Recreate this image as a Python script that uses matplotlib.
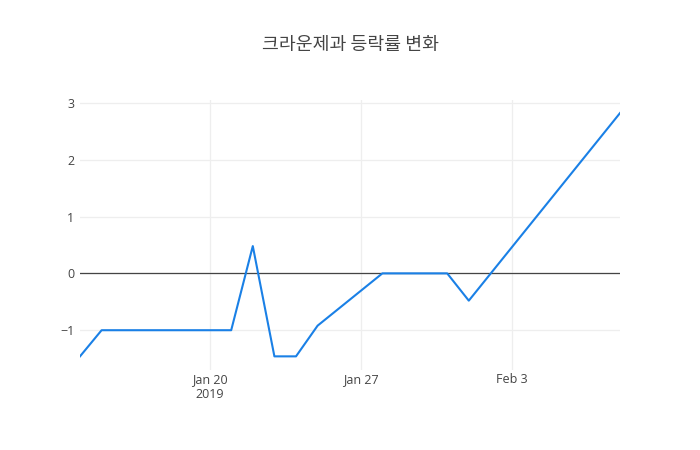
import matplotlib.pyplot as plt
import matplotlib.dates as mdates
import numpy as np
import pandas as pd

# 데이터
dates = ['2019-01-14', '2019-01-15', '2019-01-16', '2019-01-17', '2019-01-18',
         '2019-01-21', '2019-01-22', '2019-01-23', '2019-01-24', '2019-01-25',
         '2019-01-28', '2019-01-29', '2019-01-30', '2019-01-31', '2019-02-01',
         '2019-02-08']
rates = [-1.46, -1.0, -1.0, -1.0, -1.0,
         -1.0, 0.48, -1.46, -1.46, -0.92,
         0.0, 0.0, 0.0, 0.0, -0.48,
         2.82]
title = '크라운제과 등락률 변화'
xtick_dates = ['2019-01-20', '2019-01-27', '2019-02-03']
xtick_labels = ['Jan 20\n2019', 'Jan 27', 'Feb 3']
yticks = [-1, 0, 1, 2, 3]

x = pd.to_datetime(dates)

plt.rcParams['font.family'] = ['Open Sans', 'DejaVu Sans']

fig = plt.figure(figsize=(7, 4.5), dpi=100)
ax = fig.add_axes([80/700, 80/450, 540/700, 270/450])

ax.plot(x, rates, color='#1a80e6', lw=1.5, zorder=3)
ax.axhline(0, color='#444444', lw=0.9, zorder=2)

ax.set_xlim(x[0], x[-1])
ax.set_ylim(-1.70, 3.05)

ax.set_xticks(pd.to_datetime(xtick_dates))
ax.set_xticklabels(xtick_labels)
ax.set_yticks(yticks)
ax.set_yticklabels(['\u22121', '0', '1', '2', '3'])

ax.grid(True, color='#eeeeee', lw=0.9, zorder=0)
ax.set_axisbelow(True)
for s in ax.spines.values():
    s.set_visible(False)
ax.tick_params(length=0, colors='#444444', labelsize=9)
ax.tick_params(axis='x', pad=2)
ax.tick_params(axis='y', pad=4)

fig.text(350/700, 1 - 45/450, title, ha='center', va='center', fontsize=13.2,
         color='#444444', family=['Noto Sans CJK KR', 'DejaVu Sans'])

fig.savefig('out.png', dpi=100)
